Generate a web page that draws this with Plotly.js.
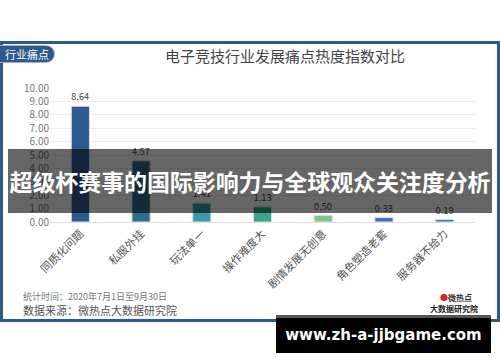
<!DOCTYPE html>
<html>
<head>
<meta charset="utf-8">
<script src="https://cdn.plot.ly/plotly-3.0.1.min.js"></script>
<style>
html,body{margin:0;padding:0;background:#fff;}
body{width:500px;height:362px;position:relative;overflow:hidden;font-family:"Noto Sans CJK SC","Noto Sans",sans-serif;}
#card{position:absolute;left:0;top:41px;width:494px;height:275px;border:3px solid #2d5a8e;background:#fff;}
#chart{position:absolute;left:0;top:0;width:500px;height:362px;}
.ov{position:absolute;white-space:nowrap;}
#tag{left:0;top:46px;width:54px;height:16px;background:#2d5a8e;border-radius:0 8px 8px 0;color:#fff;font-size:11px;line-height:16px;text-align:center;box-shadow:0 0 0 1px #9bb3d0;}
#t1{left:23px;top:290px;font-size:9px;color:#777;}
#t2{left:23px;top:302px;font-size:11px;color:#555;}
#logo1{left:440px;top:292px;font-size:8px;color:#333;font-weight:bold;}
#logo1 span{color:#d9261c;}
#logo2{left:430px;top:303px;font-size:8px;color:#222;font-weight:bold;}
#banner{left:8px;top:149px;width:484px;height:64px;background:rgba(0,0,0,0.6);color:#fff;font-size:23px;font-weight:bold;line-height:64px;text-align:center;letter-spacing:-0.1px;}
#wm{left:276px;top:315px;width:215px;height:38px;background:#000;border-top:3px solid #555;box-sizing:border-box;color:#fff;font-size:15px;font-weight:bold;line-height:34px;text-align:center;font-family:"DejaVu Sans",sans-serif;}
</style>
</head>
<body>
<div id="card"></div>
<div id="chart"></div>
<div class="ov" id="tag">行业痛点</div>
<div class="ov" id="t1">统计时间：2020年7月1日至9月30日</div>
<div class="ov" id="t2">数据来源：微热点大数据研究院</div>
<div class="ov" id="logo1"><span>●</span>微热点</div>
<div class="ov" id="logo2">大数据研究院</div>
<div class="ov" id="banner">超级杯赛事的国际影响力与全球观众关注度分析</div>
<div class="ov" id="wm">www.zh-a-jjbgame.com</div>
<script>
const categories = ["同质化问题","私服外挂","玩法单一","操作难度大","剧情发展无创意","角色塑造老套","服务器不给力"];
const values = [8.64, 4.57, 1.41, 1.13, 0.50, 0.33, 0.19];
const barColors = ["#2d5a8e","#2f6d8a","#3a9aab","#3aa38a","#7cc68a","#4472c4","#4472c4"];
const chartTitle = "电子竞技行业发展痛点热度指数对比";

const trace = {
  type: "bar",
  x: categories,
  y: values,
  marker: {color: barColors, line: {color: "#d8e2ee", width: 1}},
  text: values.map(v => v.toFixed(2)),
  textposition: "outside",
  textfont: {size: 10, color: "#444", family: "Noto Sans CJK SC, Noto Sans, sans-serif"},
  cliponaxis: false,
  hoverinfo: "none"
};

const layout = {
  width: 500, height: 362,
  margin: {l: 50, r: 25, t: 88, b: 140},
  paper_bgcolor: "rgba(0,0,0,0)",
  plot_bgcolor: "rgba(0,0,0,0)",
  bargap: 0.7,
  showlegend: false,
  font: {family: "Noto Sans CJK SC, Noto Sans, sans-serif", color: "#555"},
  title: {
    text: chartTitle,
    font: {size: 15, color: "#444"},
    x: 0.57, xref: "container", xanchor: "center",
    y: 1 - 57/362, yref: "container", yanchor: "middle"
  },
  xaxis: {
    type: "category",
    tickangle: -45,
    tickfont: {size: 11, color: "#555"},
    showgrid: false,
    showline: true, linecolor: "#e0e0e0", linewidth: 1,
    ticks: "", fixedrange: true
  },
  yaxis: {
    range: [0, 10],
    dtick: 1,
    tickformat: ".2f",
    tickfont: {size: 10, color: "#777"},
    gridcolor: "#ececec",
    zeroline: false,
    showline: false,
    ticks: "", ticklen: 0,
    fixedrange: true
  }
};

Plotly.newPlot("chart", [trace], layout, {displayModeBar: false, staticPlot: true});
</script>
</body>
</html>
